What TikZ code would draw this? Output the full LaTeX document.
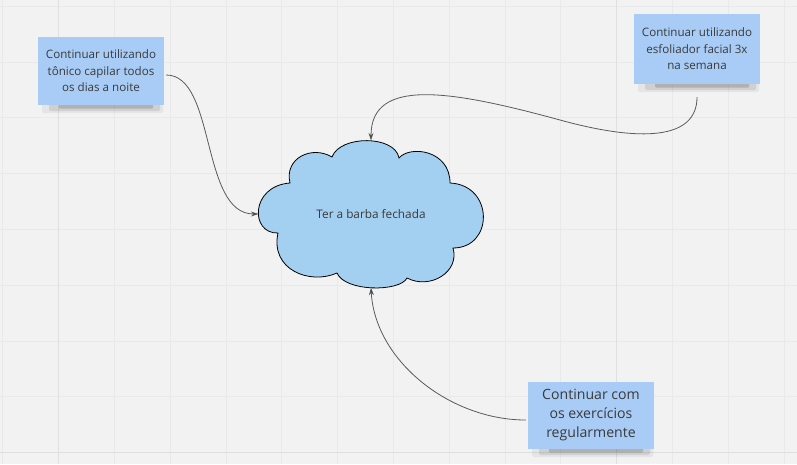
\documentclass[tikz,border=0pt]{standalone}
\usepackage{fontspec}
\setmainfont{Open Sans}
\usetikzlibrary{arrows.meta,calc}
\definecolor{bg}{HTML}{F2F2F2}
\definecolor{gridminor}{HTML}{E9E9E9}
\definecolor{gridmajor}{HTML}{DFDFDF}
\definecolor{stickyblue}{HTML}{A8CCF5}
\definecolor{cloudblue}{HTML}{A3CFF0}
\definecolor{txt}{HTML}{3A3A3A}
\definecolor{conncol}{HTML}{5A5A5A}
\tikzset{
  minorline/.style={draw=gridminor,line width=0.8pt},
  majorline/.style={draw=gridmajor,line width=1.2pt},
  sticky/.style={rectangle,fill=stickyblue,minimum width=126pt,minimum height=68pt,
    align=center,text=txt,inner sep=0pt},
  smalltext/.style={font=\fontsize{11.6}{16.5}\selectfont},
  bigtext/.style={font=\fontsize{14.1}{19}\selectfont},
  shadowA/.style={fill=black,opacity=0.05,rounded corners=2pt},
  shadowB/.style={fill=black,opacity=0.09,rounded corners=2pt},
  shadowC/.style={fill=black,opacity=0.15,rounded corners=1pt},
  cloudshape/.style={fill=cloudblue,draw=black,line width=0.8pt},
  cloudtext/.style={text=txt,font=\fontsize{11.8}{14}\selectfont,minimum width=225pt,minimum height=147pt,inner sep=0pt},
  conn/.style={draw=conncol,line width=0.8pt,-{Stealth[length=7.5pt,width=5pt,fill=black]}},
}
\begin{document}
\begin{tikzpicture}[x=1pt,y=-1pt]
\useasboundingbox (0,0) rectangle (797,464);
\fill[bg] (0,0) rectangle (797,464);
% grid
\foreach \k in {0,...,14} {
  \draw[minorline] ({2.7+55.8*\k},0) -- ({2.7+55.8*\k},464);
}
\foreach \k in {0,...,8} {
  \draw[minorline] (0,{6.2+55.8*\k}) -- (797,{6.2+55.8*\k});
}
\draw[majorline] (58.5,0) -- (58.5,464);
\draw[majorline] (616.6,0) -- (616.6,464);
\draw[majorline] (0,452.6) -- (797,452.6);

% sticky notes (positions), shadows first
\coordinate (p1) at (101,71);
\coordinate (p2) at (697,49);
\coordinate (p3) at (591,415.5);
\foreach \p/\h in {p1/68,p2/70,p3/67} {
  \fill[shadowA] ($(\p)+(-59,{\h/2-3})$) rectangle ($(\p)+(62,{\h/2+8})$);
  \fill[shadowB] ($(\p)+(-52,{\h/2-3})$) rectangle ($(\p)+(59,{\h/2+6})$);
  \fill[shadowC] ($(\p)+(-42,{\h/2-3})$) rectangle ($(\p)+(52,{\h/2+3.5})$);
}
\node[sticky,smalltext,minimum height=68pt] (s1) at (p1) {Continuar utilizando\\tônico capilar todos\\os dias a noite};
\node[sticky,smalltext,minimum height=70pt] (s2) at (p2) {Continuar utilizando\\esfoliador facial 3x\\na semana};
\node[sticky,bigtext,minimum height=67pt] (s3) at (p3) {Continuar com\\os exercícios\\regularmente};

% cloud
\draw[cloudshape] (278,233)
  .. controls (250,234) and (250,186) .. (290,183)
  .. controls (284,158) and (312,145) .. (332,157)
  .. controls (340,135) and (395,135) .. (399,158)
  .. controls (410,145) and (450,150) .. (450,183)
  .. controls (494,185) and (494,248) .. (453,248)
  .. controls (460,272) and (430,290) .. (407,278)
  .. controls (400,292) and (345,292) .. (337,273)
  .. controls (310,285) and (270,270) .. cycle;
\node[cloudtext] (cloud) at (371,214) {Ter a barba fechada};

% connectors
\draw[conn] ($(s1.east)+(2,4)$) .. controls +(50,0) and +(-58,0) .. (cloud.west);
\draw[conn] ($(s2.south)+(0,13)$) .. controls +(0,43) and (640,142) .. (560,120)
  .. controls (450,90) and +(0,-63) .. (cloud.north);
\draw[conn] ($(s3.west)+(-2,4.5)$) .. controls +(-76,0) and +(4,73) .. (cloud.south);
\end{tikzpicture}
\end{document}
